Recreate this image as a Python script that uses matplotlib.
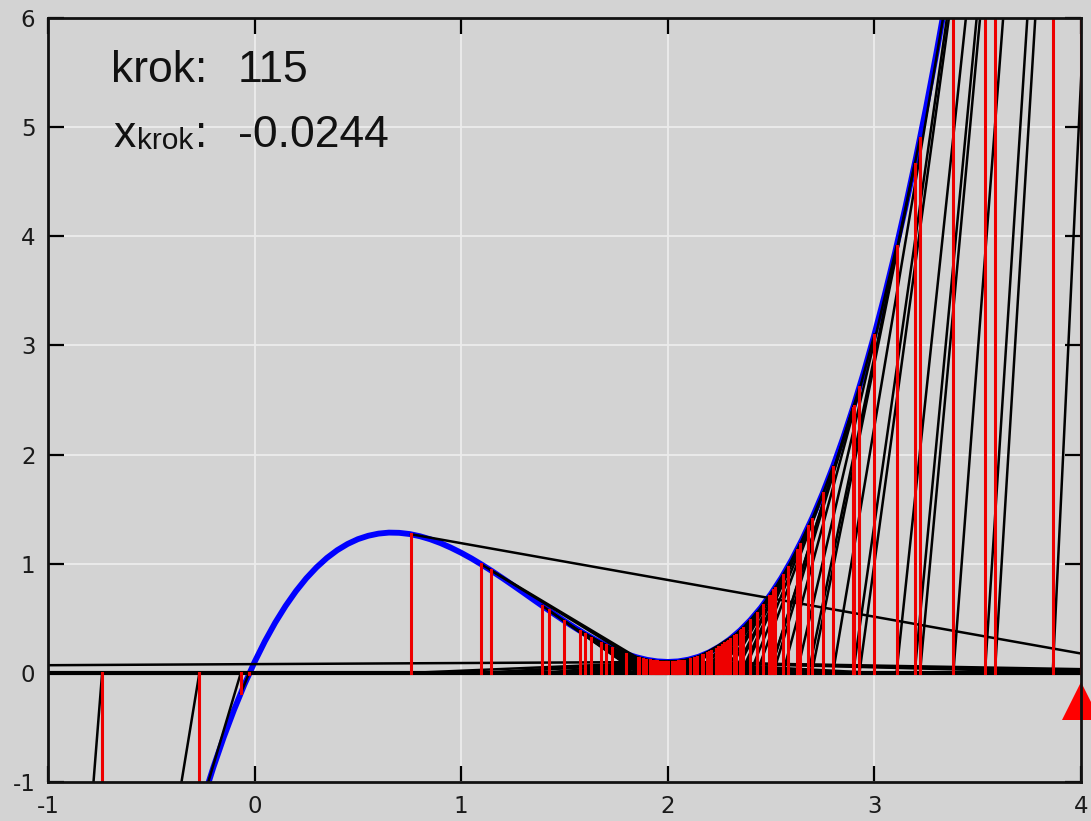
import numpy as np
import matplotlib
matplotlib.use("Agg")
import matplotlib.pyplot as plt
from matplotlib import transforms

plt.rcParams['axes.unicode_minus'] = False

# Newton iterates x_n (red lines) in order, and f(x_n)
X = [4.0, 3.195, 2.6806, 2.3543, 2.1338, 1.9877,
     4.04, 3.2208, 2.6969, 2.3648, 2.1416, 1.9917,
     5.03, 3.8632, 3.107, 2.6248, 2.3184, 2.0767,
     1.731, 1.989,
     4.29, 3.3822, 2.7995, 2.4301, 2.1886, 1.957,
     2.58, 2.2893, 2.0197,
     0.757, 4.526, 3.5351, 2.8969, 2.4919, 2.2309, 2.0268,
     1.098, 1.9748,
     3.0, 2.5571, 2.2743, 2.053,
     1.573, 1.9391,
     2.4, 2.1673, 1.9465,
     2.46, 2.2093, 2.0281,
     1.142, 1.9523,
     2.52, 2.2497, 2.0407,
     1.424, 1.8614, 2.1347, 1.9215,
     2.3, 2.0459,
     1.497, 1.8791, 2.169, 1.9903,
     4.6, 3.5832, 2.9276, 2.5113, 2.244, 2.0598,
     1.63, 1.9665,
     2.75, 2.3987, 2.1664, 1.9313,
     2.35, 2.1306, 1.9117,
     2.26, 2.0664,
     1.675, 1.8922,
     2.2, 1.943,
     2.43, 2.1885, 1.9609,
     2.64, 2.3282, 2.0387,
     1.392, 1.8565, 2.1264,
     1.8, 2.1094,
     1.7, 1.972, 2.8995, 2.4935, 2.232, 2.0479,
     1.6, 1.9179, 2.2842, 2.0025,
     -8.0, -4.9235, -2.8917, -1.5686, -0.738, -0.2672, -0.0667, -0.026, -0.0244]
Y = [16.1, 4.663, 1.342, .396, .138, .1,
     16.91, 4.9, 1.41, .415, .143, .1,
     46.28, 13.51, 3.907, 1.125, .335, .112,
     .225, .1,
     22.6, 6.562, 1.889, .55, .178, .104,
     .968, .292, .101,
     1.27, 28.98, 8.431, 2.43, .703, .219, .101,
     .993, .101,
     3.1, .894, .271, .106,
     .387, .107,
     .484, .161, .106,
     .621, .197, .102,
     .941, .104,
     .781, .24, .103,
     .572, .136, .139, .112,
     .307, .104,
     .479, .127, .162, .1,
     31.2, 9.081, 2.619, .757, .234, .107,
     .323, .102,
     1.647, .481, .16, .109,
     .388, .136, .115,
     .253, .109,
     .277, .122,
     .188, .106,
     .549, .178, .103,
     1.181, .351, .103,
     .615, .138, .134,
     .172, .125,
     .253, .102, 2.446, .707, .22, .105,
     .356, .113, .284, .1,
     -799.9, -235.9, -69.09, -19.88, -5.433, -1.273, -.185, -.007, 0.0]

# blue curve samples, x from -0.25 to 3.35 in steps of 0.05
CX = np.round(np.arange(-0.25, 3.3501, 0.05), 2)
CY = [-1.166, -.868, -.593, -.341, -.11, .1, .29, .461, .613, .748, .866, .967,
      1.053, 1.124, 1.181, 1.225, 1.256, 1.276, 1.285, 1.283, 1.272, 1.252, 1.224,
      1.189, 1.147, 1.1, 1.048, .991, .931, .868, .803, .737, .67, .604, .539, .475,
      .414, .356, .302, .253, .209, .172, .142, .119, .105, .1, .105, .121, .148,
      .188, .241, .307, .388, .484, .596, .725, .871, 1.036, 1.22, 1.423, 1.647,
      1.892, 2.159, 2.449, 2.762, 3.1, 3.463, 3.851, 4.266, 4.708, 5.178, 5.677, 6.205]

x_ticks = [-1, 0, 1, 2, 3, 4]
y_ticks = [-1, 0, 1, 2, 3, 4, 5, 6]
step = len(X) - 1
x_last = X[-1]

fig = plt.figure(figsize=(10.91, 8.21), dpi=100, facecolor='#d3d3d3')
ax = fig.add_axes([48/1091, 39/821, 1033/1091, 764/821], facecolor='#d3d3d3')
ax.plot(CX, CY, color='#0000ff', lw=4.2, zorder=2, solid_capstyle='round')
for i in range(len(X) - 1):
    ax.plot([X[i], X[i+1]], [Y[i], 0], color='black', lw=1.8, zorder=3)
ax.axhline(0, color='black', lw=3, zorder=3)
for i in range(len(X)):
    ax.plot([X[i], X[i]], [0, Y[i]], color='#ee0000', lw=2.2, zorder=4)
tr = transforms.offset_copy(ax.transData, fig=fig, x=0, y=-20.5, units='points')
ax.plot([X[0]], [0], marker='^', markersize=27, color='#ff0000', transform=tr,
        clip_on=False, zorder=6, markeredgewidth=0)

ax.set_xlim(-1, 4)
ax.set_ylim(-1, 6)
ax.set_xticks(x_ticks)
ax.set_yticks(y_ticks)
ax.grid(True, color='#ececec', lw=1.3, zorder=0)
ax.set_axisbelow(True)
ax.tick_params(direction='in', length=11.5, width=1.6, top=True, right=True,
               labelsize=16.5, labelcolor='#1a1a1a', pad=9)
for lab in ax.get_xticklabels() + ax.get_yticklabels():
    lab.set_family('DejaVu Sans')
for s in ax.spines.values():
    s.set_linewidth(2)
    s.set_color('#111111')
    s.set_zorder(7)

fam = ['Liberation Sans', 'DejaVu Sans']
by1 = 1 - 82/821
by2 = 1 - 147/821
fig.text(111/1091, by1, 'krok:', fontsize=32, family=fam, va='baseline', color='#111111')
fig.text(238/1091, by1, '%d' % step, fontsize=32, family=fam, va='baseline', color='#111111')
fig.text(114/1091, by2, 'x', fontsize=32, family=fam, va='baseline', color='#111111')
fig.text(137/1091, by2 - 2/821, 'krok', fontsize=21.5, family=fam, va='baseline', color='#111111')
fig.text(195/1091, by2, ':', fontsize=32, family=fam, va='baseline', color='#111111')
fig.text(238/1091, by2, '%.4f' % x_last, fontsize=32, family=fam, va='baseline', color='#111111')

fig.savefig('out.png', dpi=100, facecolor=fig.get_facecolor())
